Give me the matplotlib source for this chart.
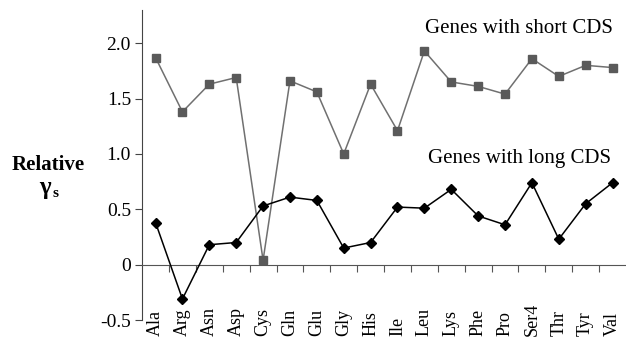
import numpy as np
import matplotlib
matplotlib.use("Agg")
import matplotlib.pyplot as plt
import matplotlib.transforms as mtransforms

plt.rcParams['font.family'] = ['Liberation Serif', 'DejaVu Serif']

amino = ['Ala', 'Arg', 'Asn', 'Asp', 'Cys', 'Gln', 'Glu', 'Gly', 'His',
         'Ile', 'Leu', 'Lys', 'Phe', 'Pro', 'Ser4', 'Thr', 'Tyr', 'Val']
short_cds = [1.87, 1.38, 1.63, 1.69, 0.04, 1.66, 1.56, 1.00, 1.63,
             1.21, 1.93, 1.65, 1.61, 1.54, 1.86, 1.70, 1.80, 1.78]
long_cds = [0.38, -0.31, 0.18, 0.20, 0.53, 0.61, 0.58, 0.15, 0.20,
            0.52, 0.51, 0.68, 0.44, 0.36, 0.74, 0.23, 0.55, 0.74]
yticks = [-0.5, 0, 0.5, 1.0, 1.5, 2.0]
ytick_labels = ['-0.5', '0', '0.5', '1.0', '1.5', '2.0']

fig = plt.figure(figsize=(6.26, 3.37), dpi=100)
ax = fig.add_axes([0.227, 0.0504, 0.773, 0.92])

x = np.arange(len(amino))
ax.plot(x, short_cds, color='#707070', lw=1.1, marker='s', ms=5.5,
        mfc='#5a5a5a', mec='#5a5a5a', zorder=3)
ax.plot(x, long_cds, color='black', lw=1.1, marker='D', ms=5.5,
        mfc='black', mec='black', zorder=4)

ax.set_xlim(-0.5, len(amino) - 0.5)
ax.set_ylim(-0.5, 2.3)

for s in ['top', 'right']:
    ax.spines[s].set_visible(False)
ax.spines['bottom'].set_position(('data', 0))
ax.spines['bottom'].set_color('#555555')
ax.spines['left'].set_color('#444444')
ax.spines['left'].set_bounds(-0.5, 2.3)

ax.set_yticks(yticks)
ax.set_yticklabels(ytick_labels, fontsize=14)
ax.tick_params(axis='y', direction='out', length=5, color='#444444', pad=3)

ax.set_xticks(x[:-1] + 0.5)
ax.set_xticklabels([])
ax.tick_params(axis='x', direction='out', length=5, color='#555555')

# category names sit at the very bottom of the figure
trans = mtransforms.blended_transform_factory(ax.transData, fig.transFigure)
for i, name in enumerate(amino):
    ax.text(i, 0.004, name, transform=trans, rotation=90,
            ha='center', va='bottom', fontsize=13)

ax.text(17.0, 2.13, 'Genes with short CDS', ha='right', va='center', fontsize=15)
ax.text(16.95, 0.96, 'Genes with long CDS', ha='right', va='center', fontsize=15)

fig.text(0.077, 0.51, 'Relative', ha='center', va='center', fontsize=15,
         fontweight='bold')
fig.text(0.072, 0.445, 'γ', ha='center', va='center', fontsize=18,
         fontweight='bold')
fig.text(0.089, 0.425, 's', ha='center', va='center', fontsize=11,
         fontweight='bold')

fig.savefig('out.png', dpi=100)
